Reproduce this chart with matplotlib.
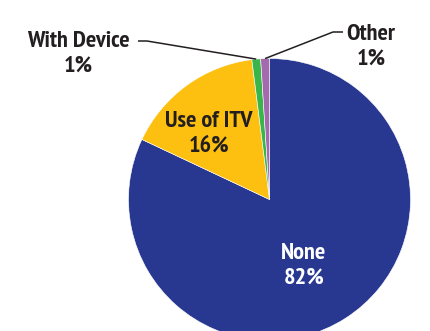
import numpy as np
import matplotlib.pyplot as plt

labels = ['None', 'Use of ITV', 'With Device', 'Other']
shares = [82, 16, 1, 1]
colors = ['#283891', '#FDC010', '#3AB54A', '#A46AAE']

plt.rcParams['font.family'] = ['PT Sans Narrow', 'Fira Sans Condensed',
                               'Roboto Condensed', 'Barlow Condensed', 'DejaVu Sans']
plt.rcParams['font.weight'] = 'bold'

fig = plt.figure(figsize=(4.30, 3.31), dpi=100)
ax = fig.add_axes([0, 0, 1, 1])

# pie laid out in pixel units, y pointing up
cx, cy, r = 269.5, 131.5, 141
wedges, _ = ax.pie(shares, colors=colors, startangle=90, counterclock=False,
                   center=(cx, cy), radius=r, frame=True,
                   wedgeprops=dict(linewidth=0.4, edgecolor='white'))
ax.set_xlim(0, 430)
ax.set_ylim(0, 331)
ax.set_aspect('equal')
ax.axis('off')


def rim_point(w):
    mid = np.deg2rad((w.theta1 + w.theta2) / 2)
    return cx + r * np.cos(mid), cy + r * np.sin(mid)


def label(name, pct):
    return '{}\n{}%'.format(name, pct)


fs = 17.5
ls = 1.2
dark = '#231F20'

# labels inside the large slices
ax.text(304, 331 - 266, label(labels[0], shares[0]), color='white', fontsize=fs,
        ha='center', va='center', linespacing=ls)
ax.text(209, 331 - 134, label(labels[1], shares[1]), color=dark, fontsize=fs,
        ha='center', va='center', linespacing=ls)

# call-outs for the two thin slices
ax.text(78, 331 - 54, label(labels[2], shares[2]), color=dark, fontsize=fs,
        ha='center', va='center', linespacing=ls)
px, py = rim_point(wedges[2])
ax.plot([138, 147, px], [331 - 41, 331 - 41, py], color=dark, lw=1.1,
        solid_capstyle='butt')

ax.text(371, 331 - 47, label(labels[3], shares[3]), color=dark, fontsize=fs,
        ha='center', va='center', linespacing=ls)
px, py = rim_point(wedges[3])
ax.plot([px, 333, 343], [py, 331 - 32, 331 - 32], color=dark, lw=1.1,
        solid_capstyle='butt')

fig.savefig('out.png', dpi=100)
